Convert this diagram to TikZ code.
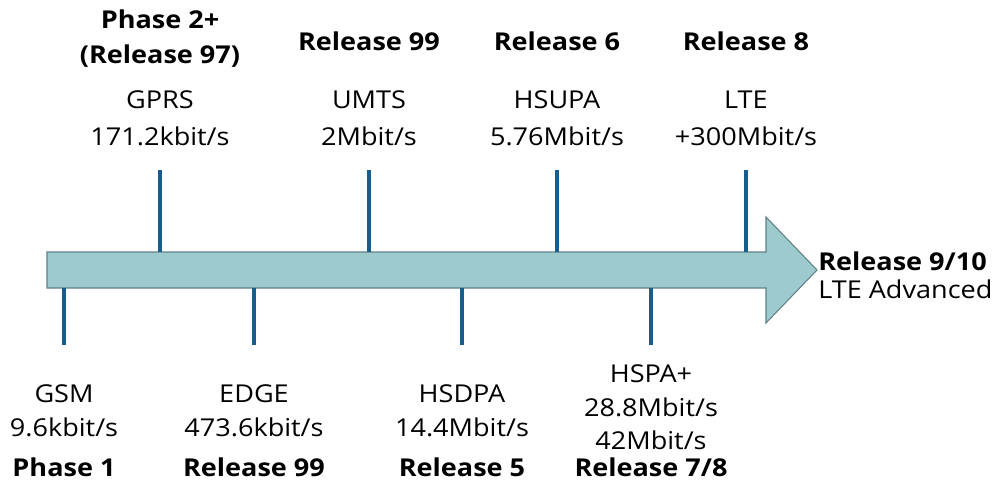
\documentclass[tikz,border=0pt]{standalone}
\usepackage{fontspec}
\setmainfont[FakeStretch=1.1]{Open Sans}
\usepackage{tikz}
\definecolor{tlfill}{RGB}{157,203,205}
\definecolor{tlborder}{RGB}{96,128,136}
\definecolor{tlblue}{RGB}{24,94,140}
\tikzset{
  tltext/.style={anchor=base, inner sep=0pt, font=\fontsize{14}{17}\selectfont},
  tlhead/.style={tltext, font=\fontsize{14}{17}\selectfont\bfseries},
  tlmark/.style={draw=tlblue, line width=2.4pt}
}
\newcommand{\tlnode}[3] {\node at (#1) (#2) [tltext] {#3};}
\newcommand{\tlbold}[3] {\node at (#1) (#2) [tlhead] {#3};}
\newcommand{\tltick}[3] {\coordinate (#1-base) at (#2); \coordinate (#1-end) at (#3); \draw [tlmark] (#1-base) -- (#1-end);}

\begin{document}
\begin{tikzpicture}[x=0.02cm, y=-0.02cm]
\useasboundingbox (0,0) rectangle (995,485);

\filldraw [fill=tlfill, draw=tlborder, line width=0.6pt] (47,252) -- (766,252) -- (766,217) -- (817,270) -- (766,323) -- (766,288) -- (47,288) -- cycle;

\tltick {gprs}{160,252}{160,170};
\tltick {umts}{369,252}{369,170};
\tltick {hsupa}{557,252}{557,170};
\tltick {lte}{746,252}{746,170};
\tltick {gsm}{64,288}{64,345};
\tltick {edge}{254,288}{254,345};
\tltick {hsdpa}{462,288}{462,345};
\tltick {hspa}{651,288}{651,345};

\tlbold {160,28}{phase2}{Phase 2+};
\tlbold {160,63}{rel97}{(Release 97)};
\tlnode {160,108}{gprs}{GPRS};
\tlnode {160,145}{gprsrate}{171.2kbit/s};

\tlbold {369,50}{rel99top}{Release 99};
\tlnode {369,108}{umts}{UMTS};
\tlnode {369,145}{umtsrate}{2Mbit/s};

\tlbold {557,50}{rel6}{Release 6};
\tlnode {557,108}{hsupa}{HSUPA};
\tlnode {557,145}{hsuparate}{5.76Mbit/s};

\tlbold {746,50}{rel8}{Release 8};
\tlnode {746,108}{lte}{LTE};
\tlnode {746,145}{lterate}{+300Mbit/s};

\tlnode {64,402}{gsm}{GSM};
\tlnode {64,436}{gsmrate}{9.6kbit/s};
\tlbold {64,476}{phase1}{Phase 1};

\tlnode {254,402}{edge}{EDGE};
\tlnode {254,436}{edgerate}{473.6kbit/s};
\tlbold {254,476}{rel99bot}{Release 99};

\tlnode {462,402}{hsdpa}{HSDPA};
\tlnode {462,436}{hsdparate}{14.4Mbit/s};
\tlbold {462,476}{rel5}{Release 5};

\tlnode {651,382}{hspa}{HSPA+};
\tlnode {651,416}{hsparate}{28.8Mbit/s};
\tlnode {651,449}{hsparatemax}{42Mbit/s};
\tlbold {651,476}{rel78}{Release 7/8};

\node at (818,270) (rel910) [tlhead, anchor=base west] {Release 9/10};
\node at (818,298) (lteadv) [tltext, anchor=base west] {LTE Advanced};
\end{tikzpicture}
\end{document}
